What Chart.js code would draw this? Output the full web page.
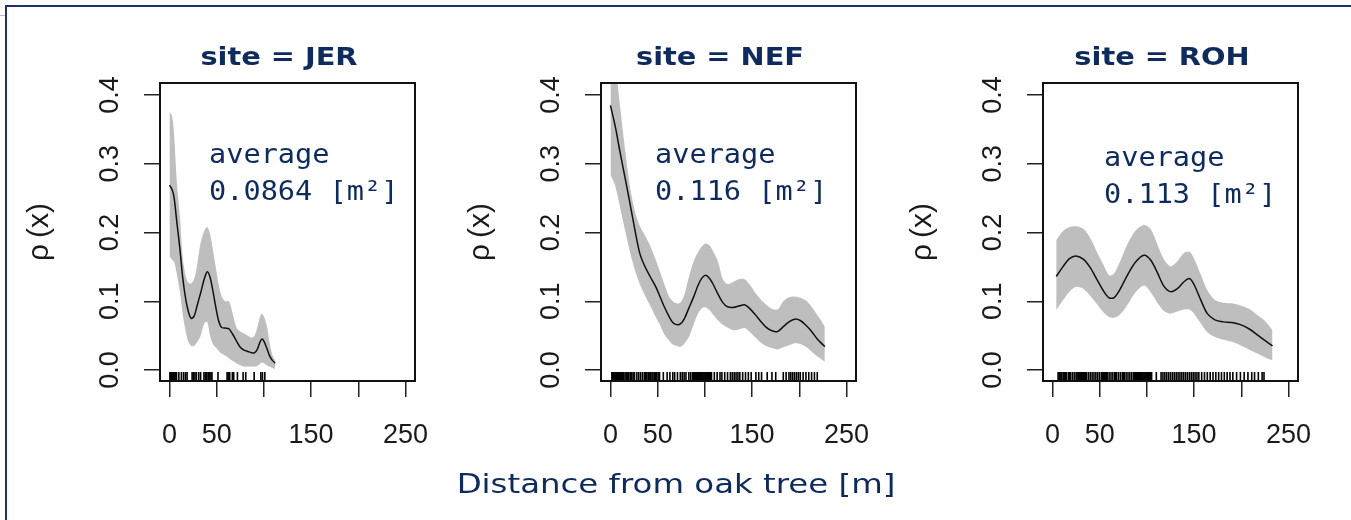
<!DOCTYPE html>
<html>
<head>
<meta charset="utf-8">
<script src="https://cdn.jsdelivr.net/npm/chart.js@4.4.1/dist/chart.umd.min.js"></script>
<style>
    html, body { margin: 0; padding: 0; background: #ffffff; }
    body { width: 1351px; height: 520px; position: relative; overflow: hidden; }
    .frame { position: absolute; left: 5px; top: 5px; right: 0; bottom: 0; border-top: 2px solid #1c3363; border-left: 2px solid #1c3363; }
    .nick { position: absolute; left: 0; top: 15px; width: 5px; height: 1px; background: #b8b8b8; }
    .panel { position: absolute; top: 0; width: 470px; height: 520px; }
</style>
</head>
<body>
<div class="frame"></div>
<div class="nick"></div>
<div class="panel" style="left:0px"><canvas id="chartJER" width="470" height="520"></canvas></div>
<div class="panel" style="left:441px"><canvas id="chartNEF" width="470" height="520"></canvas></div>
<div class="panel" style="left:883px"><canvas id="chartROH" width="470" height="520"></canvas></div>
<script>

const xTicks = [0, 50, 100, 150, 200, 250];
const xTickLabels = ["0", "50", "", "150", "", "250"];
const yTicks = [0, 0.1, 0.2, 0.3, 0.4];

// site = JER
const jerX     = [0, 3, 5, 8, 11, 14, 17, 20, 23, 26, 29, 33, 37, 40, 43, 46, 49, 52, 55, 59, 63, 67, 71, 75, 79, 83, 87, 90, 93, 96, 98, 100, 103, 106, 109, 112];
const jerMean  = [0.269, 0.262, 0.250, 0.213, 0.177, 0.135, 0.105, 0.085, 0.075, 0.078, 0.092, 0.112, 0.133, 0.143, 0.135, 0.115, 0.092, 0.072, 0.062, 0.061, 0.060, 0.052, 0.042, 0.033, 0.029, 0.027, 0.025, 0.025, 0.030, 0.041, 0.045, 0.042, 0.032, 0.021, 0.014, 0.010];
const jerUpper = [0.376, 0.368, 0.340, 0.270, 0.225, 0.165, 0.138, 0.127, 0.126, 0.132, 0.150, 0.185, 0.203, 0.208, 0.198, 0.175, 0.150, 0.125, 0.108, 0.100, 0.100, 0.082, 0.062, 0.056, 0.053, 0.050, 0.047, 0.050, 0.062, 0.078, 0.082, 0.078, 0.065, 0.040, 0.022, 0.014];
const jerLower = [0.165, 0.160, 0.157, 0.138, 0.115, 0.082, 0.058, 0.041, 0.035, 0.035, 0.040, 0.050, 0.068, 0.070, 0.050, 0.038, 0.033, 0.028, 0.024, 0.021, 0.017, 0.013, 0.010, 0.007, 0.005, 0.005, 0.005, 0.005, 0.006, 0.009, 0.011, 0.010, 0.007, 0.005, 0.003, 0.002];
const jerRug   = [0.5, 1.5, 2.5, 3.5, 4.5, 5.5, 6.5, 7.5, 10, 12.7, 15, 17, 18.7, 24, 25.5, 27, 28.5, 31, 33, 36.5, 38, 39.5, 41, 42.5, 44, 45, 51.4, 61, 62.5, 63.8, 66.6, 68, 72, 78, 80.8, 89.7, 96.8, 98.5, 101];

// site = NEF
const nefX     = [0, 5, 10, 16, 21, 26, 31, 36, 42, 48, 53, 57, 62, 66, 70, 74, 78, 83, 88, 93, 97, 101, 105, 109, 114, 119, 124, 130, 136, 142, 147, 153, 159, 165, 171, 177, 183, 189, 195, 201, 207, 213, 219, 224, 227];
const nefMean  = [0.385, 0.355, 0.318, 0.276, 0.240, 0.203, 0.170, 0.152, 0.136, 0.121, 0.105, 0.092, 0.078, 0.069, 0.066, 0.067, 0.074, 0.090, 0.106, 0.124, 0.134, 0.138, 0.133, 0.124, 0.110, 0.098, 0.092, 0.091, 0.093, 0.095, 0.090, 0.081, 0.071, 0.062, 0.057, 0.056, 0.063, 0.070, 0.074, 0.072, 0.065, 0.056, 0.045, 0.038, 0.034];
const nefUpper = [0.450, 0.440, 0.385, 0.315, 0.264, 0.230, 0.210, 0.197, 0.181, 0.160, 0.141, 0.125, 0.107, 0.100, 0.097, 0.098, 0.108, 0.135, 0.158, 0.172, 0.180, 0.184, 0.181, 0.172, 0.157, 0.132, 0.125, 0.128, 0.132, 0.132, 0.125, 0.113, 0.103, 0.095, 0.089, 0.088, 0.100, 0.106, 0.107, 0.105, 0.101, 0.092, 0.080, 0.070, 0.063];
const nefLower = [0.284, 0.268, 0.238, 0.200, 0.170, 0.145, 0.125, 0.110, 0.094, 0.077, 0.064, 0.052, 0.043, 0.037, 0.035, 0.034, 0.038, 0.048, 0.066, 0.083, 0.090, 0.091, 0.087, 0.080, 0.072, 0.066, 0.062, 0.058, 0.059, 0.061, 0.056, 0.048, 0.040, 0.035, 0.032, 0.030, 0.033, 0.036, 0.039, 0.038, 0.034, 0.027, 0.020, 0.015, 0.012];
const nefRug   = [1.5, 2.5, 3.5, 4.5, 5.5, 6.5, 7.5, 8.5, 9.5, 10.5, 11.5, 13, 14, 15.5, 17, 18, 19.5, 21, 22.5, 24, 25.5, 28, 30, 32, 34, 36, 37, 38.5, 40, 41, 42.5, 44, 45, 46.5, 48, 49, 50.5, 52, 56, 60, 63, 66, 68, 71, 74, 76, 78, 80, 83, 85, 87, 88, 89, 90, 91, 92, 93, 94, 95, 96, 97, 98, 99, 100, 101, 102, 103, 104, 105, 106, 107, 110, 113, 116, 118, 121, 124, 127, 129, 131, 133, 135, 137, 140, 143, 146, 149, 154, 157, 160, 166, 171, 175, 183, 186, 189, 191, 193, 195, 197, 199, 201, 204, 207, 210, 213, 216, 219];

// site = ROH
const rohX     = [4, 11, 18, 25, 33, 40, 47, 54, 60, 65, 71, 79, 88, 97, 104, 111, 118, 125, 132, 139, 145, 150, 157, 164, 172, 181, 190, 199, 208, 217, 226, 233];
const rohMean  = [0.136, 0.150, 0.162, 0.166, 0.161, 0.149, 0.132, 0.115, 0.105, 0.105, 0.116, 0.137, 0.157, 0.167, 0.160, 0.142, 0.122, 0.114, 0.118, 0.128, 0.133, 0.124, 0.102, 0.082, 0.073, 0.070, 0.069, 0.066, 0.060, 0.051, 0.042, 0.035];
const rohUpper = [0.189, 0.202, 0.208, 0.209, 0.205, 0.192, 0.172, 0.153, 0.138, 0.140, 0.156, 0.182, 0.203, 0.211, 0.205, 0.183, 0.161, 0.151, 0.158, 0.170, 0.172, 0.162, 0.139, 0.116, 0.102, 0.098, 0.097, 0.094, 0.089, 0.080, 0.070, 0.058];
const rohLower = [0.087, 0.101, 0.114, 0.121, 0.118, 0.108, 0.096, 0.084, 0.077, 0.076, 0.080, 0.094, 0.113, 0.123, 0.113, 0.098, 0.086, 0.082, 0.085, 0.088, 0.088, 0.082, 0.068, 0.055, 0.048, 0.044, 0.041, 0.036, 0.030, 0.024, 0.018, 0.014];
const rohRug   = [6, 7, 8, 9, 10, 11.5, 13, 14, 15, 17, 18, 19, 21, 23, 25, 26, 27, 28, 29, 30, 31, 32, 33, 34, 35, 36, 38, 40, 42, 44, 46, 48, 50, 52, 53, 54, 55, 56, 57, 58, 60, 62, 64, 66, 67, 68, 70, 72, 74, 75, 76, 78, 80, 82, 84, 86, 87, 88, 89, 90, 91, 92, 93, 94, 95, 96, 97, 98, 99, 100, 101, 102, 103, 104, 105, 110, 115, 117, 119, 121, 123, 125, 127, 129, 131, 133, 135, 137, 139, 141, 143, 145, 147, 149, 151, 153, 155, 158, 161, 164, 167, 170, 173, 176, 179, 182, 185, 188, 191, 195, 199, 203, 207, 211, 214, 218, 222, 224];

const navy = "#0f2a5c";
const tickFont = { family: "'Liberation Sans', Arial, sans-serif", size: 27 };

// box, panel title, "average" note and the shared x title
const panelDecor = {
    id: "panelDecor",
    afterDraw(chart, args, opts) {
        const ctx = chart.ctx;
        const a = chart.chartArea;

        ctx.save();
        ctx.strokeStyle = "#111111";
        ctx.lineWidth = 2;
        ctx.strokeRect(a.left, a.top, a.right - a.left, a.bottom - a.top);

        ctx.fillStyle = navy;
        ctx.textBaseline = "alphabetic";

        ctx.save();
        ctx.textAlign = "center";
        ctx.font = "bold 24px 'DejaVu Sans'";
        ctx.translate(a.left + 119, 65);
        ctx.scale(1.2, 1);
        ctx.fillText(opts.title, 0, 0);
        ctx.restore();

        ctx.save();
        ctx.textAlign = "left";
        ctx.font = "26px 'DejaVu Sans Mono'";
        ctx.translate(a.left + opts.noteX, opts.noteY);
        ctx.scale(1.1, 1);
        ctx.fillText("average", 0, 0);
        ctx.fillText(opts.note, 0, 37);
        ctx.restore();

        if (opts.axisTitle) {
            ctx.save();
            ctx.textAlign = "center";
            ctx.font = "27px 'DejaVu Sans'";
            ctx.translate(235, 493);
            ctx.scale(1.2, 1);
            ctx.fillText(opts.axisTitle, 0, 0);
            ctx.restore();
        }

        ctx.restore();
    }
};

function points(xs, ys) {
    return xs.map((x, i) => ({ x: x, y: ys[i] }));
}

function drawPanel(id, site, note, noteX, noteY, xs, mean, upper, lower, rug, axisTitle) {

    const canvas = document.getElementById(id);

    new Chart(canvas, {

        type: "line",

        data: {
            datasets: [
                {
                    data: points(xs, upper),
                    borderWidth: 0,
                    pointRadius: 0,
                    backgroundColor: "#bebebe",
                    fill: "+1",
                    tension: 0.3,
                    order: 3
                },
                {
                    data: points(xs, lower),
                    borderWidth: 0,
                    pointRadius: 0,
                    fill: false,
                    tension: 0.3,
                    order: 3
                },
                {
                    data: points(xs, mean),
                    borderColor: "#111111",
                    borderWidth: 1.5,
                    pointRadius: 0,
                    fill: false,
                    tension: 0.3,
                    order: 1
                },
                {
                    type: "scatter",
                    data: rug.map(x => ({ x: x, y: -0.0095 })),
                    pointStyle: "line",
                    rotation: 90,
                    radius: 4.5,
                    borderColor: "#000000",
                    borderWidth: 1.6,
                    order: 0
                }
            ]
        },

        options: {
            responsive: false,
            animation: false,
            devicePixelRatio: 1,
            events: [],
            layout: { padding: { left: 0, top: 83, right: 55, bottom: 0 } },
            plugins: {
                legend: { display: false },
                tooltip: { enabled: false },
                filler: { drawTime: "beforeDatasetsDraw" },
                panelDecor: { title: site, note: note, noteX: noteX, noteY: noteY, axisTitle: axisTitle }
            },
            scales: {
                x: {
                    type: "linear",
                    min: -10,
                    max: 260,
                    afterBuildTicks: (s) => { s.ticks = xTicks.map(v => ({ value: v })); },
                    afterFit: (s) => { s.height = 139; },
                    ticks: {
                        callback: (v, i) => xTickLabels[i],
                        autoSkip: false,
                        minRotation: 0,
                        maxRotation: 0,
                        padding: 22,
                        color: "#1a1a1a",
                        font: tickFont
                    },
                    grid: { drawOnChartArea: false, drawTicks: true, tickLength: 16, color: "#222222", lineWidth: 1.5 },
                    border: { display: false }
                },
                y: {
                    type: "linear",
                    min: -0.016,
                    max: 0.4175,
                    afterBuildTicks: (s) => { s.ticks = yTicks.map(v => ({ value: v })); },
                    afterFit: (s) => { s.width = 160; },
                    ticks: {
                        callback: (v) => v.toFixed(1),
                        minRotation: 90,
                        maxRotation: 90,
                        crossAlign: "center",
                        padding: 15,
                        color: "#1a1a1a",
                        font: tickFont
                    },
                    grid: { drawOnChartArea: false, drawTicks: true, tickLength: 16, color: "#222222", lineWidth: 1.5 },
                    border: { display: false },
                    title: {
                        display: true,
                        text: "ρ\u2009(x)",
                        color: "#1a1a1a",
                        font: { family: "'Liberation Sans', Arial, sans-serif", size: 30 },
                        padding: { top: 22, bottom: 0 }
                    }
                }
            }
        },

        plugins: [panelDecor]

    });

}

drawPanel("chartJER", "site = JER", "0.0864 [m²]", 49, 163, jerX, jerMean, jerUpper, jerLower, jerRug, null);
drawPanel("chartNEF", "site = NEF", "0.116 [m²]", 54, 163, nefX, nefMean, nefUpper, nefLower, nefRug, "Distance from oak tree [m]");
drawPanel("chartROH", "site = ROH", "0.113 [m²]", 61, 166, rohX, rohMean, rohUpper, rohLower, rohRug, null);

</script>
</body>
</html>
